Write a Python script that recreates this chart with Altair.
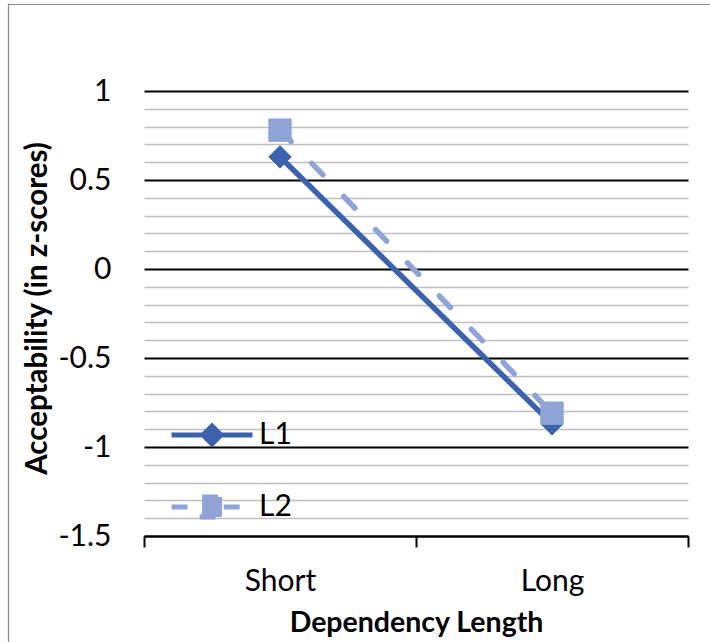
import json
import altair as alt
import pandas as pd

# Mean acceptability (z-scores) by dependency length for each group
lengths = ["Short", "Long"]
groups = ["L1", "L2"]
l1_scores = [0.63, -0.87]
l2_scores = [0.78, -0.81]

y_ticks = [-1.5, -1.4, -1.3, -1.2, -1.1, -1.0, -0.9, -0.8, -0.7, -0.6, -0.5,
           -0.4, -0.3, -0.2, -0.1, 0.0, 0.1, 0.2, 0.3, 0.4, 0.5,
           0.6, 0.7, 0.8, 0.9, 1.0]

colors = ["#3c62ad", "#8fa3d6"]
dashes = [[1, 0], [16, 30]]

# legend glyphs: a line segment with the series marker on top of it
# (the dashed one is split so each piece starts with a dash)
legend_shapes = [
    "M-4.5,0H4.5M0,-1L1,0L0,1L-1,0Z",
    "M-4.5,0H-2.4M1.3,0H3.5M-1.1,-1.1H1.1V1.1H-1.1Z",
]

rows = []
for g, vals in zip(groups, [l1_scores, l2_scores]):
    for length, v in zip(lengths, vals):
        rows.append({"Group": g, "Length": length, "Score": v})
df = pd.DataFrame(rows)

FONT = "Lato"
major = "abs(datum.value * 2 - round(datum.value * 2)) < 0.001"
cats = json.dumps(lengths)

x_enc = alt.X(
    "pos:Q",
    scale=alt.Scale(domain=[0, len(lengths)], nice=False, zero=False),
    axis=alt.Axis(
        title="Dependency Length",
        values=[i / 2 for i in range(2 * len(lengths) + 1)],
        tickCount=20,
        labelExpr=f"(datum.value % 1) > 0.25 ? {cats}[floor(datum.value)] : ''",
        tickOpacity={"condition": {"test": "(datum.value % 1) > 0.25", "value": 0}, "value": 1},
        grid=False,
        domainColor="#000000",
        domainWidth=2,
        tickColor="#000000",
        tickWidth=2,
        tickSize=11,
        labelPadding=19,
        labelFont=FONT,
        labelFontSize=30,
        labelColor="#000000",
        titleFont=FONT,
        titleFontSize=28.5,
        titleFontWeight="bold",
        titleColor="#000000",
        titlePadding=12,
    ),
)

y_enc = alt.Y(
    "Score:Q",
    scale=alt.Scale(domain=[-1.5, 1.0], nice=False, zero=False),
    axis=alt.Axis(
        title="Acceptability (in z-scores)",
        values=y_ticks,
        tickCount=60,
        labelExpr=f"{major} ? toString(datum.value) : ''",
        labelOverlap=False,
        ticks=False,
        domain=False,
        gridColor={"condition": {"test": major, "value": "#000000"}, "value": "#bfbfbf"},
        gridWidth={"condition": {"test": major, "value": 1.8}, "value": 1.4},
        labelPadding=33,
        labelFont=FONT,
        labelFontSize=30,
        labelColor="#000000",
        titleFont=FONT,
        titleFontSize=29.5,
        titleFontWeight="bold",
        titleColor="#000000",
        titlePadding=5,
        titleY=217,
    ),
)

color_scale = alt.Scale(domain=groups, range=colors)
dash_scale = alt.Scale(domain=groups, range=dashes)

base = alt.Chart(df).transform_calculate(
    pos=f"indexof({cats}, datum.Length) + 0.5"
)

# invisible layer that carries the legend (line + marker glyphs)
legend_layer = base.mark_point(filled=True, opacity=0).encode(
    x=x_enc,
    y=y_enc,
    fill=alt.Fill("Group:N", scale=color_scale, legend=alt.Legend(title=None)),
    stroke=alt.Stroke("Group:N", scale=color_scale, legend=alt.Legend(title=None)),
    strokeDash=alt.StrokeDash("Group:N", scale=dash_scale, legend=alt.Legend(title=None)),
    shape=alt.Shape(
        "Group:N",
        scale=alt.Scale(domain=groups, range=legend_shapes),
        legend=alt.Legend(
            title=None,
            orient="none",
            legendX=53,
            legendY=329,
            symbolSize=324,
            symbolStrokeWidth=5,
            symbolOpacity=1,
            labelFont=FONT,
            labelFontSize=30,
            labelColor="#000000",
            labelOffset=32,
            rowPadding=33,
        ),
    ),
)

lines = base.mark_line(strokeWidth=5.5, strokeCap="round").encode(
    x="pos:Q",
    y="Score:Q",
    stroke=alt.Stroke("Group:N", scale=color_scale, legend=None),
    strokeDash=alt.StrokeDash("Group:N", scale=dash_scale, legend=None),
)

marker_shapes = {"L1": "diamond", "L2": "square"}
markers = [
    base.transform_filter(alt.datum.Group == g)
    .mark_point(filled=True, size=500, shape=marker_shapes[g], opacity=1, strokeWidth=1)
    .encode(
        x="pos:Q",
        y="Score:Q",
        fill=alt.Fill("Group:N", scale=color_scale, legend=None),
        stroke=alt.Stroke("Group:N", scale=color_scale, legend=None),
    )
    for g in groups
]

# outer chart frame
frame = alt.Chart(alt.Data(values=[{}])).mark_rect(
    fill=None, stroke="#8c8c8c", strokeWidth=1.2
).encode(
    x=alt.value(-135.5), x2=alt.value(700), y=alt.value(-86.5), y2=alt.value(700)
)

chart = alt.layer(legend_layer, lines, *markers, frame).properties(
    width=544,
    height=445,
    autosize=alt.AutoSizeParams(type="none"),
    padding={"left": 144, "top": 91, "right": 22, "bottom": 106},
    background="white",
).configure_view(stroke=None)

chart.save("out.html", embed_options={"renderer": "svg", "actions": False})
